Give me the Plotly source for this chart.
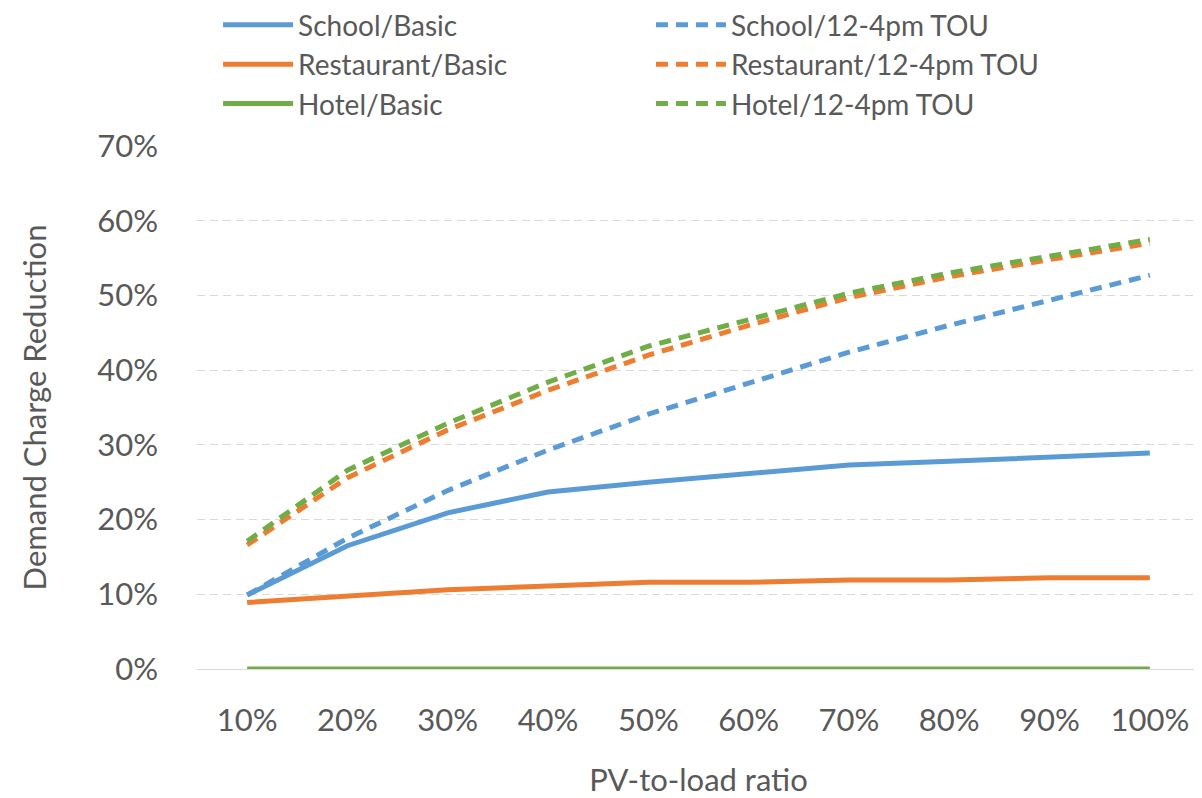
import plotly.graph_objects as go

categories = ["10%", "20%", "30%", "40%", "50%", "60%", "70%", "80%", "90%", "100%"]

school_basic = [0.099, 0.165, 0.209, 0.237, 0.250, 0.261, 0.273, 0.278, 0.284, 0.289]
restaurant_basic = [0.089, 0.098, 0.106, 0.111, 0.116, 0.116, 0.119, 0.119, 0.122, 0.122]
hotel_basic = [0.0, 0.0, 0.0, 0.0, 0.0, 0.0, 0.0, 0.0, 0.0, 0.0]
school_tou = [0.099, 0.175, 0.239, 0.293, 0.341, 0.383, 0.424, 0.460, 0.494, 0.527]
restaurant_tou = [0.166, 0.256, 0.320, 0.373, 0.420, 0.460, 0.497, 0.525, 0.548, 0.570]
hotel_tou = [0.171, 0.266, 0.329, 0.384, 0.432, 0.467, 0.503, 0.530, 0.553, 0.575]

BLUE = "#5B9BD5"
ORANGE = "#ED7D31"
GREEN = "#70AD47"

series = [
    ("School/Basic", school_basic, BLUE, "solid", "legend"),
    ("Restaurant/Basic", restaurant_basic, ORANGE, "solid", "legend"),
    ("Hotel/Basic", hotel_basic, GREEN, "solid", "legend"),
    ("School/12-4pm TOU", school_tou, BLUE, "dash", "legend2"),
    ("Restaurant/12-4pm TOU", restaurant_tou, ORANGE, "dash", "legend2"),
    ("Hotel/12-4pm TOU", hotel_tou, GREEN, "dash", "legend2"),
]

FONT = "Lato, 'Open Sans', sans-serif"
TXT = "#595959"

fig = go.Figure()
for name, vals, color, dash, lg in series:
    fig.add_trace(go.Scatter(
        x=categories, y=vals, name=name, mode="lines", legend=lg,
        line=dict(color=color, width=5, dash="solid" if dash == "solid" else "12px,8px"),
    ))

legend_common = dict(
    orientation="v", xanchor="left", yanchor="top",
    font=dict(size=28, color=TXT, family=FONT), itemwidth=70,
    bgcolor="rgba(0,0,0,0)", tracegroupgap=0,
)

# page body has an 8px margin, so the figure is sized/offset accordingly
fig.update_layout(
    width=1194, height=790,
    margin=dict(l=189, r=2, t=138, b=129, autoexpand=False),
    paper_bgcolor="white", plot_bgcolor="white",
    font=dict(family=FONT, color=TXT, size=30),
    showlegend=True,
    legend=dict(x=0.021, y=1.279, **legend_common),
    legend2=dict(x=0.4526, y=1.279, **legend_common),
    xaxis=dict(
        type="category", range=[-0.5, 9.5], automargin=False,
        showgrid=False, zeroline=False, showline=False,
        ticks="", tickfont=dict(size=31, color=TXT), ticklabelstandoff=30,
        title=dict(text="PV-to-load ratio", font=dict(size=31, color=TXT), standoff=40),
    ),
    yaxis=dict(
        range=[0, 0.7], dtick=0.1, tickformat=".0%", automargin=False,
        showgrid=True, gridcolor="#D9D9D9", gridwidth=1.3, griddash="8px,5px",
        zeroline=True, zerolinecolor="#D9D9D9", zerolinewidth=1.3,
        showline=False, ticks="", ticklen=0, tickfont=dict(size=31, color=TXT),
        ticklabelstandoff=38,
        title=dict(text="Demand Charge Reduction", font=dict(size=31, color=TXT), standoff=41),
    ),
)

fig.write_html("out.html")
